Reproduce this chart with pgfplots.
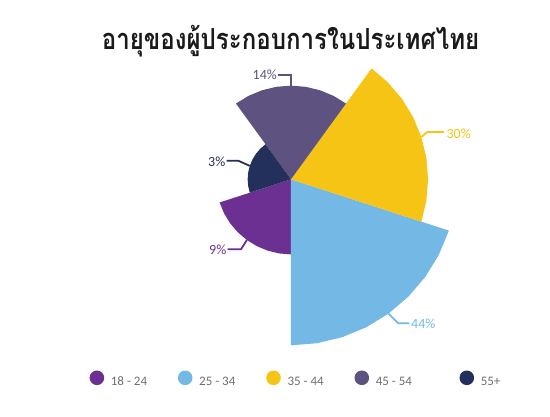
\documentclass[border=0pt]{standalone}
\usepackage{fontspec}
\setmainfont{Carlito}
\newfontfamily\thaifont[Script=Thai, FakeStretch=0.83]{Loma}
\usepackage{pgfplots}
\pgfplotsset{compat=1.18}
\usepgfplotslibrary{polar}

\definecolor{cA}{HTML}{6C3092}
\definecolor{cB}{HTML}{74B8E6}
\definecolor{cC}{HTML}{F5C414}
\definecolor{cD}{HTML}{5E5280}
\definecolor{cE}{HTML}{23305C}
\definecolor{legtext}{HTML}{6E6E6E}
\definecolor{titletext}{HTML}{1A1A1A}

\begin{document}
\begin{tikzpicture}
\path[use as bounding box] (0pt,0pt) rectangle (550pt,417pt);
\begin{polaraxis}[
    at={(291pt,237.7pt)}, anchor=center,
    width=332pt, height=332pt, scale only axis,
    hide axis, clip=false,
    xmin=0, xmax=360, ymin=0, ymax=44,
    % area of a sector follows the share, so the radius goes with sqrt
    y coord trafo/.code={\pgfmathparse{sqrt(#1)}},
    y coord inv trafo/.code={\pgfmathparse{(#1)^2}},
    title={อายุของผู้ประกอบการในประเทศไทย},
    title style={at={(axis description cs:0.4985,0.8946)}, anchor=base,
        yshift=-16pt,
        font=\thaifont\bfseries\fontsize{29}{32}\selectfont, text=titletext},
    legend image code/.code={\fill[#1] (0pt,4.5pt) circle (7.3pt);},
    legend columns=5,
    legend style={at={(axis description cs:-0.1072,-0.1015)}, anchor=west,
        draw=none, fill=none, inner sep=0pt, column sep=0pt,
        nodes={inner sep=0pt},
        font=\fontsize{13}{15}\selectfont, text=legtext},
    every axis plot/.append style={draw=none, mark=none},
]

% 18 - 24 : 9%
\addplot[fill=cA] coordinates {
    (0,0) (198,9) (207,9) (216,9) (225,9) (234,9) (243,9) (252,9) (261,9) (270,9)
};
\addlegendentry{\makebox[73.7pt][l]{\hspace*{6.7pt}18 - 24}}

% 25 - 34 : 44%
\addplot[fill=cB] coordinates {
    (0,0) (270,44) (279,44) (288,44) (297,44) (306,44) (315,44) (324,44) (333,44) (342,44)
};
\addlegendentry{\makebox[73.7pt][l]{\hspace*{6.7pt}25 - 34}}

% 35 - 44 : 30%
\addplot[fill=cC] coordinates {
    (0,0) (-18,30) (-9,30) (0,30) (9,30) (18,30) (27,30) (36,30) (45,30) (54,30)
};
\addlegendentry{\makebox[73.7pt][l]{\hspace*{6.7pt}35 - 44}}

% 45 - 54 : 14%
\addplot[fill=cD] coordinates {
    (0,0) (54,14) (63,14) (72,14) (81,14) (90,14) (99,14) (108,14) (117,14) (126,14)
};
\addlegendentry{\makebox[90.4pt][l]{\hspace*{6.7pt}45 - 54}}

% 55+ : 3%
\addplot[fill=cE] coordinates {
    (0,0) (126,3) (135,3) (144,3) (153,3) (162,3) (171,3) (180,3) (189,3) (198,3)
};
\addlegendentry{\hspace*{6.7pt}55+}

% leader lines and value labels
\begin{scope}[line width=1.8pt, font=\fontsize{14}{16}\selectfont]
\draw[cC] (axis cs:18,30) -- ++(6.1pt,5pt) -- ++(16.7pt,0pt)
    node[anchor=west, inner sep=1.5pt, yshift=-2pt, text=cC] {30\%};
\draw[cB] (axis cs:306,44) -- ++(9.7pt,-9.7pt) -- ++(11pt,0pt)
    node[anchor=west, inner sep=1pt, text=cB] {44\%};
\draw[cD] (axis cs:90,14) -- ++(0pt,11pt) -- ++(-12.7pt,0pt)
    node[anchor=east, inner sep=0.5pt, text=cD] {14\%};
\draw[cE] (axis cs:162,3) -- ++(-11.5pt,5.2pt) -- ++(-11.6pt,0pt)
    node[anchor=east, inner sep=0.5pt, yshift=-1.5pt, text=cE] {3\%};
\draw[cA] (axis cs:234,9) -- ++(-5.9pt,-9.3pt) -- ++(-13.3pt,0pt)
    node[anchor=east, inner sep=0.5pt, yshift=-0.5pt, text=cA] {9\%};
\end{scope}

\end{polaraxis}
\end{tikzpicture}
\end{document}
